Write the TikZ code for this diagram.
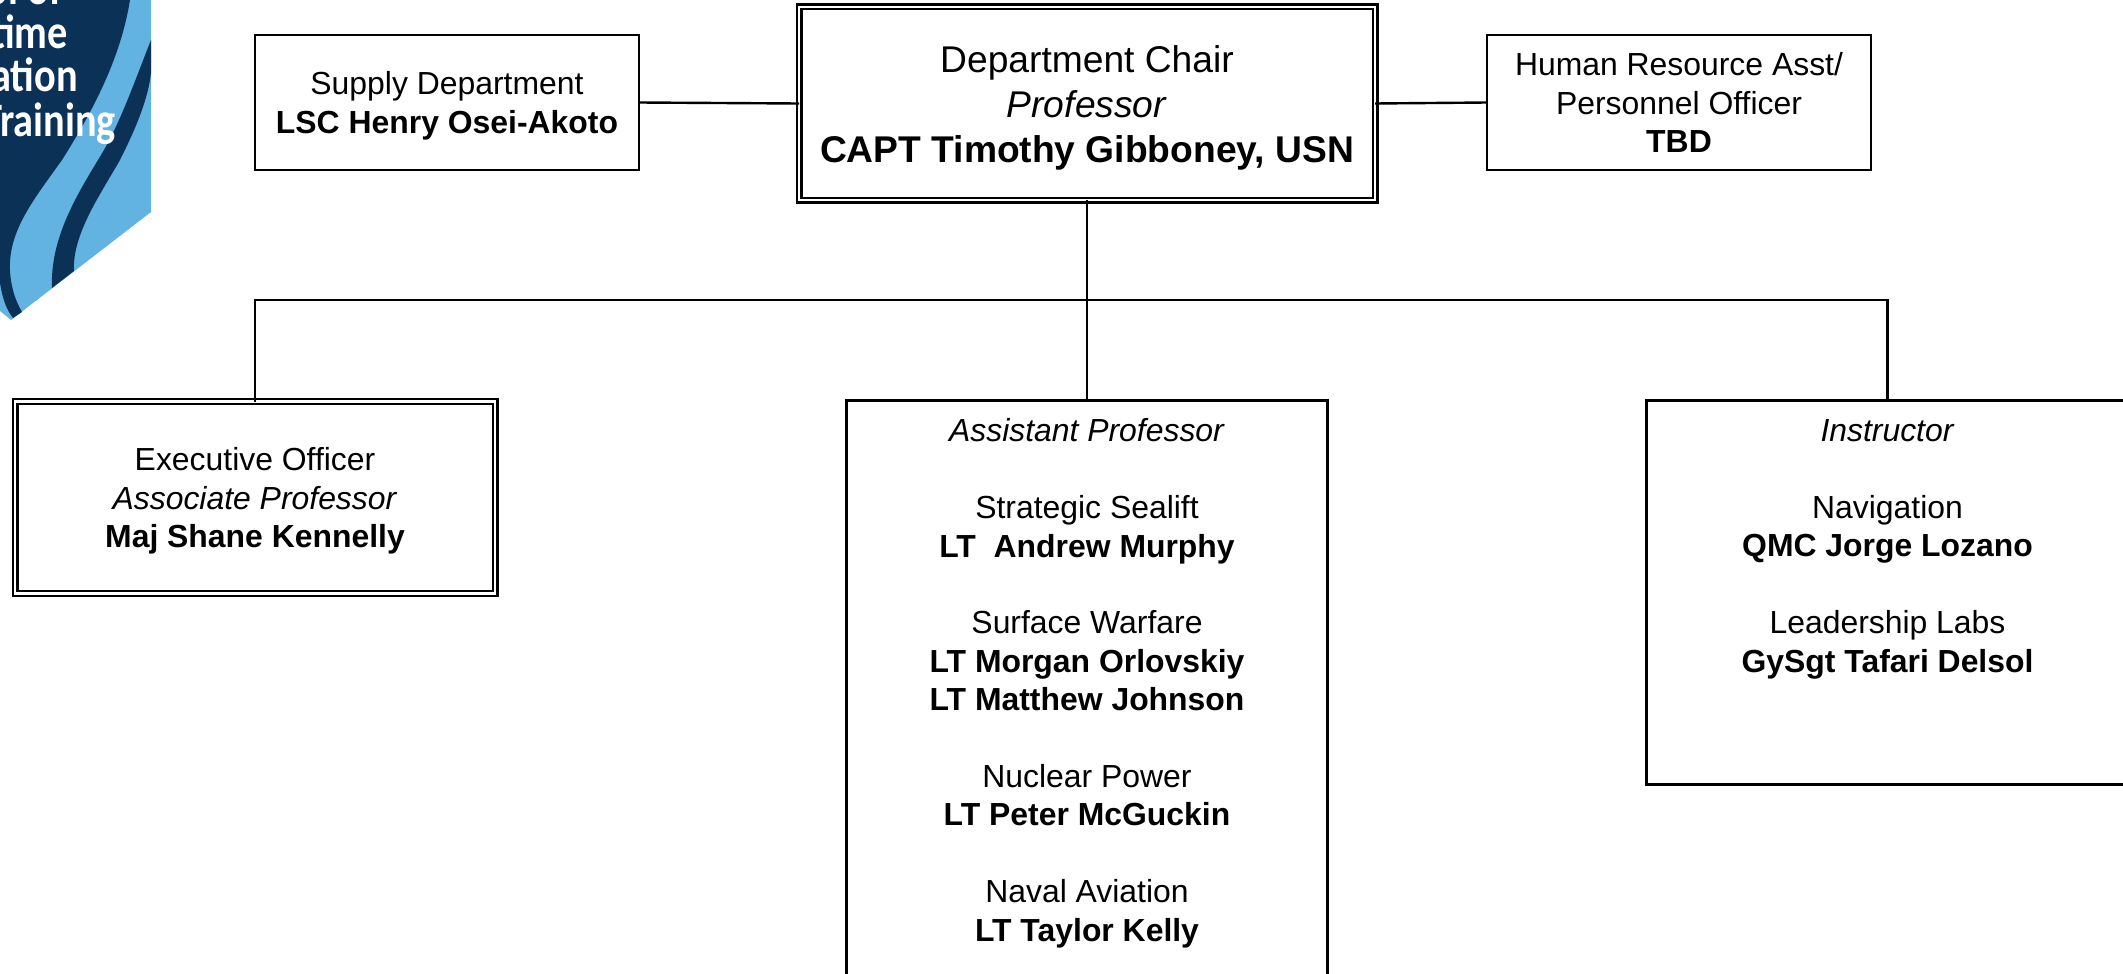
\documentclass[tikz,border=0pt]{standalone}
\usepackage{fontspec}
\setmainfont{Liberation Sans}
\newfontfamily\logofont[FakeStretch=0.84]{Carlito Bold}
\usepackage{tikz}
\usetikzlibrary{positioning}

\definecolor{logodark}{HTML}{0B3157}
\definecolor{logolight}{HTML}{62B3E2}

\newcommand{\topgap}[1]{\rule{0pt}{#1}}

\tikzset{
	orgbox/.style={draw=black, line width=2.4pt, rectangle, inner sep=0pt, outer sep=0pt, align=center, font=\fontsize{31.9}{38.8}\selectfont},
	chairbox/.style={orgbox, double, line width=2.4pt, double distance=2.2pt},
	listtext/.style={anchor=north, align=center, inner sep=0pt, font=\fontsize{31.9}{38.4}\selectfont},
	logotext/.style={anchor=base east, inner sep=0pt, text=white, font=\logofont\fontsize{48}{48}\selectfont},
	orgline/.style={draw=black, line width=2.4pt}
}

\begin{document}
\begin{tikzpicture}[x=1pt,y=1pt]
\clip (0,0) rectangle (2123,-974);

% logo
\fill[logolight] (0,0) -- (151,0) -- (151,-212) -- (11,-320) -- (0,-311) -- cycle;
\fill[logodark] (0,0) -- (130,0) .. controls (122,-50) and (100,-100) .. (62,-160)
	.. controls (30,-205) and (0,-240) .. (13,-290) .. controls (15,-298) and (18,-305) .. (22,-312)
	-- (13,-318) .. controls (5,-308) and (2,-295) .. (0,-283) -- cycle;
\fill[logodark] (151,-40) .. controls (135,-80) and (120,-125) .. (98,-160)
	.. controls (75,-198) and (50,-240) .. (52,-288) -- (74,-271)
	.. controls (72,-235) and (100,-195) .. (120,-160) .. controls (135,-130) and (148,-100) .. (151,-73) -- cycle;
\foreach \t/\xe/\ye/\i in {ol of/62/5/a, time/68/48.5/b, ation/78/92/c, Training/116/136/d} {
	\node[logotext] (logo\i) at (\xe,-\ye) {\t};
}

% top row
\node[chairbox, minimum width=576pt, minimum height=193pt, font=\fontsize{37.2}{44.7}\selectfont] (chair) at (1087,-103.5)
	{\topgap{36pt}Department Chair\\ \textit{Professor}\\ \textbf{CAPT Timothy Gibboney, USN}};
\node[orgbox, minimum width=384pt, minimum height=135pt] (supply) at (447,-102.5)
	{\topgap{29pt}Supply Department\\ \textbf{LSC Henry Osei-Akoto}};
\node[orgbox, minimum width=384pt, minimum height=135pt] (hr) at (1679,-102.5)
	{Human Resource Asst/\\ Personnel Officer\\ \textbf{TBD}};

% lower row
\node[chairbox, minimum width=480pt, minimum height=192pt] (xo) at (255,-497.5)
	{\topgap{30pt}Executive Officer\\ \textit{Associate Professor}\\ \textbf{Maj Shane Kennelly}};
\node[orgbox, minimum width=481pt, minimum height=700pt, anchor=north] (asst) at (1087,-400.5) {};
\node[orgbox, minimum width=482pt, minimum height=384pt, anchor=north] (instr) at (1887.5,-400.5) {};

\node[listtext, below=18pt of asst.north] (asstlist)
	{\textit{Assistant Professor}\\[38.4pt]
	Strategic Sealift\\ \textbf{LT\ \ Andrew Murphy}\\[38.4pt]
	Surface Warfare\\ \textbf{LT Morgan Orlovskiy}\\ \textbf{LT Matthew Johnson}\\[38.4pt]
	Nuclear Power\\ \textbf{LT Peter McGuckin}\\[38.4pt]
	Naval Aviation\\ \textbf{LT Taylor Kelly}};
\node[listtext, below=19pt of instr.north] (instrlist)
	{\textit{Instructor}\\[38.4pt]
	Navigation\\ \textbf{QMC Jorge Lozano}\\[38.4pt]
	Leadership Labs\\ \textbf{GySgt Tafari Delsol}};

% connectors
\coordinate (bus) at (1087,-300);
\draw[orgline] (supply.east) -- (chair.west);
\draw[orgline] (chair.east) -- (hr.west);
\draw[orgline] (chair.south) -- (asst.north);
\draw[orgline] (xo.north) |- (bus) -| (instr.north);
\end{tikzpicture}
\end{document}
